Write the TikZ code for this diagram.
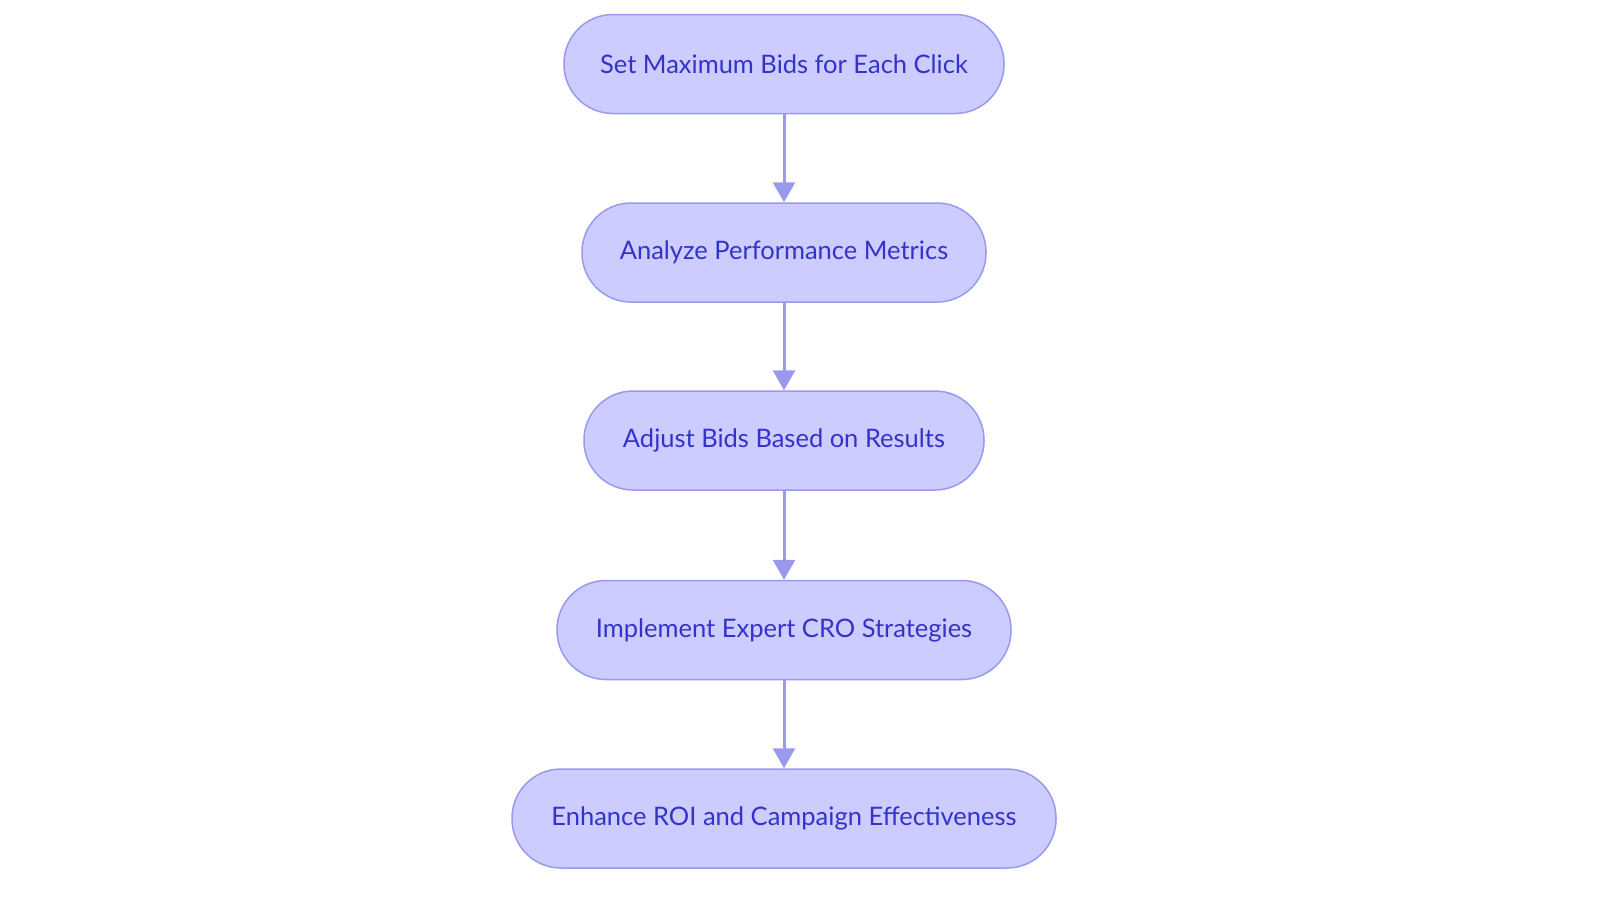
\documentclass[tikz,border=0pt]{standalone}
\usepackage{fontspec}
\setmainfont{Lato}
\usetikzlibrary{arrows.meta}
\definecolor{nodefill}{HTML}{CCCCFF}
\definecolor{nodeline}{HTML}{9999EE}
\definecolor{nodetext}{HTML}{3333CC}
\definecolor{arrowcol}{HTML}{9999EE}
\begin{document}
\begin{tikzpicture}[x=1pt,y=1pt,
  stepbox/.style={draw=nodeline, line width=1.5pt, fill=nodefill, text=nodetext,
    rounded corners=49pt, minimum height=99pt, inner sep=0pt,
    font=\fontsize{25.5}{30}\selectfont},
  flow/.style={draw=arrowcol, line width=3pt, -{Triangle[length=20pt,width=22pt]}}]
\useasboundingbox (0,0) rectangle (1600,-903);
\node[stepbox, minimum width=440pt] (n1) at (784,-64) {Set Maximum Bids for Each Click};
\node[stepbox, minimum width=404pt] (n2) at (784,-252.5) {Analyze Performance Metrics};
\node[stepbox, minimum width=400pt] (n3) at (784,-440.5) {Adjust Bids Based on Results};
\node[stepbox, minimum width=454pt] (n4) at (784,-630) {Implement Expert CRO Strategies};
\node[stepbox, minimum width=544pt] (n5) at (784,-818.5) {Enhance ROI and Campaign Effectiveness};
\draw[flow] (n1) -- (n2);
\draw[flow] (n2) -- (n3);
\draw[flow] (n3) -- (n4);
\draw[flow] (n4) -- (n5);
\end{tikzpicture}
\end{document}
